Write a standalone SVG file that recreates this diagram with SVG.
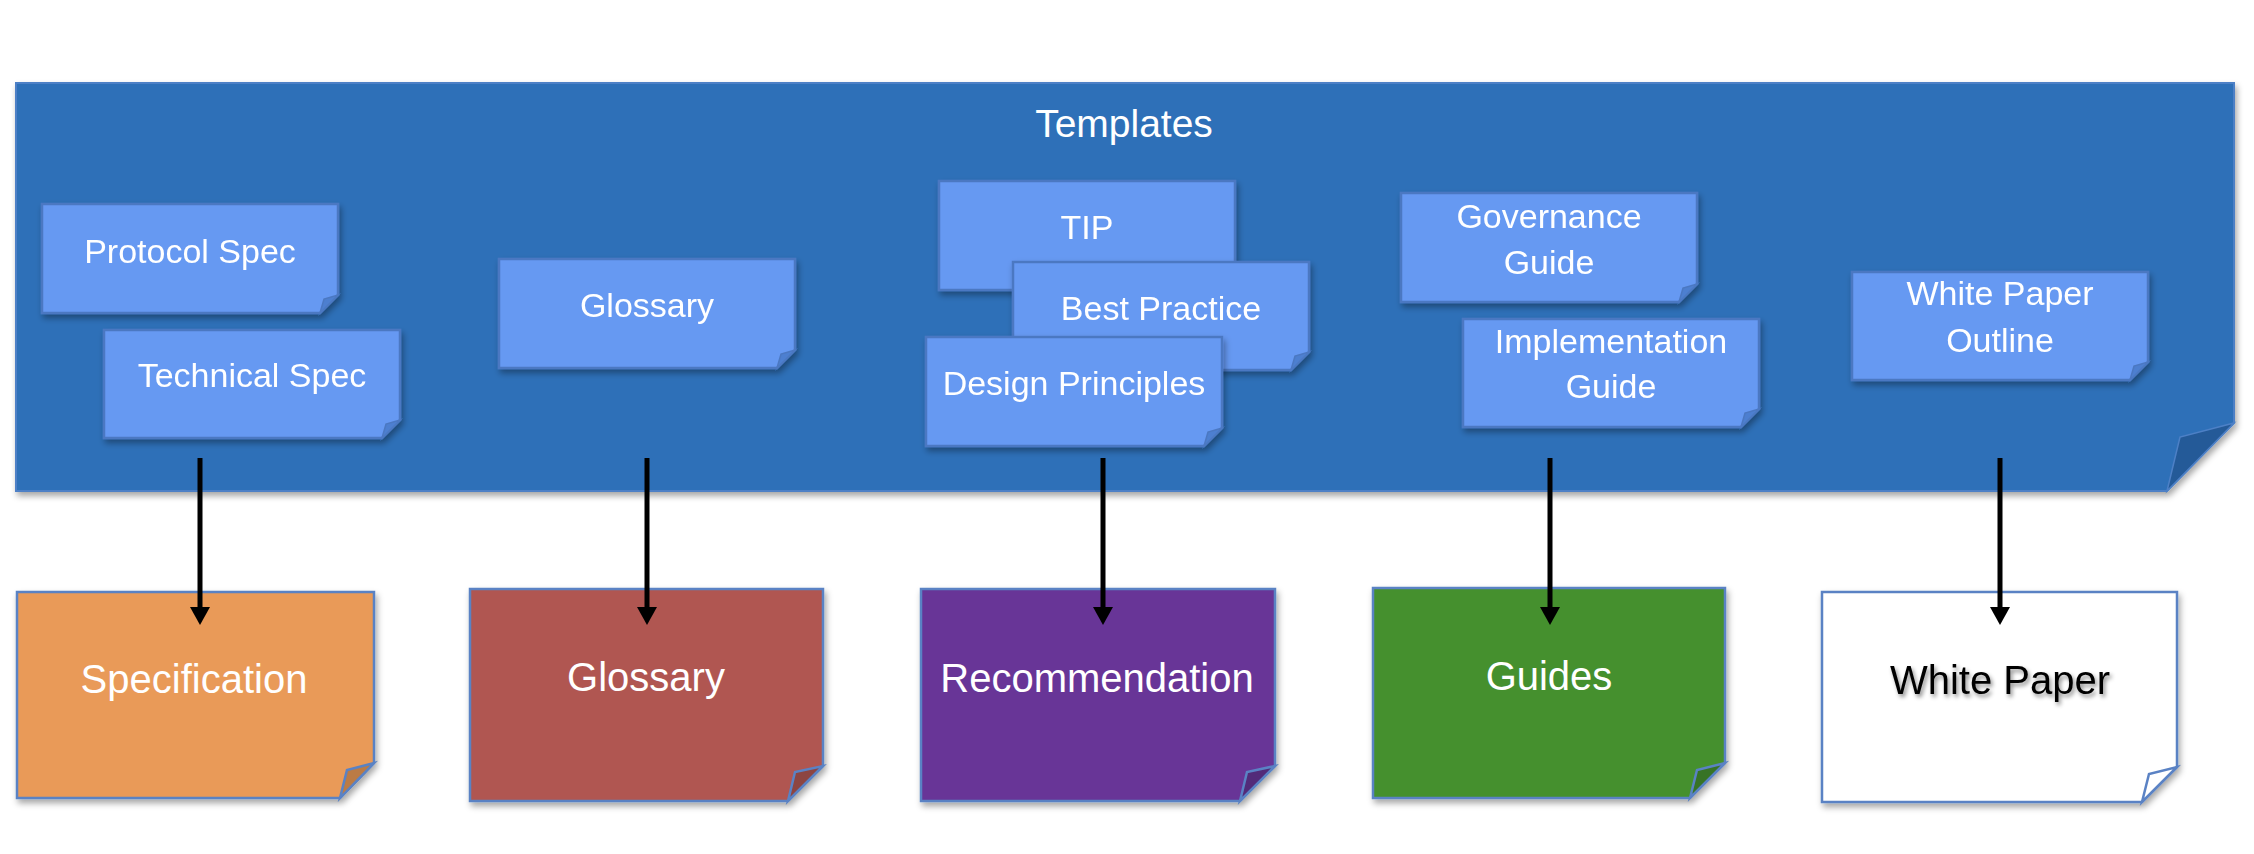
<svg xmlns="http://www.w3.org/2000/svg" width="2254" height="854" viewBox="0 0 2254 854">
<defs>
<filter id="sh" x="-10%" y="-10%" width="130%" height="140%">
<feDropShadow dx="2" dy="4" stdDeviation="3" flood-color="#000" flood-opacity="0.35"/>
</filter>
<filter id="tsh" x="-10%" y="-20%" width="130%" height="160%">
<feDropShadow dx="2" dy="3" stdDeviation="2" flood-color="#000" flood-opacity="0.45"/>
</filter>
<marker id="arr" viewBox="0 0 18 20" refX="1" refY="10" markerWidth="18" markerHeight="20" markerUnits="userSpaceOnUse" orient="auto">
<path d="M0,0 L18,10 L0,20 Z" fill="#000"/>
</marker>
</defs>
<style>
text{font-family:"Liberation Sans",Arial,sans-serif;fill:#fff;text-anchor:middle}
.t{font-size:34px}
.b{font-size:40px}
.h{font-size:39px}
.sm{fill:#6699F2;stroke:#4C78C2;stroke-width:2.5}
.smf{fill:#4D7FD0;stroke:#4C78C2;stroke-width:1.5}
.bx{stroke:#5A82C4;stroke-width:2.5}
.con{stroke:#000;stroke-width:5;fill:none}
</style>
<rect width="2254" height="854" fill="#fff"/>

<g id="templates">
<path d="M16,83 H2234 V423 L2167,491 H16 Z" fill="#2E70B8" stroke="#4D80C6" stroke-width="2" filter="url(#sh)"/>
<path d="M2167,491 L2180,437 L2234,423 Z" fill="#245A98" stroke="#4D80C6" stroke-width="1.5"/>
<text class="h" x="1124" y="137">Templates</text>
</g>

<g id="protocol-spec" filter="url(#sh)">
<path class="sm" d="M42,204 H338 V295 L320,313 H42 Z"/>
<path class="smf" d="M320,313 L324,299 L338,295 Z"/>
<text class="t" x="190" y="263">Protocol Spec</text>
</g>
<g id="technical-spec" filter="url(#sh)">
<path class="sm" d="M104,330 H400 V420 L382,438 H104 Z"/>
<path class="smf" d="M382,438 L386,424 L400,420 Z"/>
<text class="t" x="252" y="387">Technical Spec</text>
</g>
<g id="glossary-template" filter="url(#sh)">
<path class="sm" d="M499,259 H795 V350 L777,368 H499 Z"/>
<path class="smf" d="M777,368 L781,354 L795,350 Z"/>
<text class="t" x="647" y="317">Glossary</text>
</g>
<g id="tip" filter="url(#sh)">
<path class="sm" d="M939,181 H1235 V272 L1217,290 H939 Z"/>
<path class="smf" d="M1217,290 L1221,276 L1235,272 Z"/>
<text class="t" x="1087" y="239">TIP</text>
</g>
<g id="best-practice" filter="url(#sh)">
<path class="sm" d="M1013,262 H1309 V352 L1291,370 H1013 Z"/>
<path class="smf" d="M1291,370 L1295,356 L1309,352 Z"/>
<text class="t" x="1161" y="320">Best Practice</text>
</g>
<g id="design-principles" filter="url(#sh)">
<path class="sm" d="M926,337 H1222 V428 L1204,446 H926 Z"/>
<path class="smf" d="M1204,446 L1208,432 L1222,428 Z"/>
<text class="t" x="1074" y="395">Design Principles</text>
</g>
<g id="governance-guide" filter="url(#sh)">
<path class="sm" d="M1401,193 H1697 V284 L1679,302 H1401 Z"/>
<path class="smf" d="M1679,302 L1683,288 L1697,284 Z"/>
<text class="t" x="1549" y="228">Governance</text>
<text class="t" x="1549" y="274">Guide</text>
</g>
<g id="implementation-guide" filter="url(#sh)">
<path class="sm" d="M1463,319 H1759 V409 L1741,427 H1463 Z"/>
<path class="smf" d="M1741,427 L1745,413 L1759,409 Z"/>
<text class="t" x="1611" y="353">Implementation</text>
<text class="t" x="1611" y="398">Guide</text>
</g>
<g id="white-paper-outline" filter="url(#sh)">
<path class="sm" d="M1852,272 H2148 V362 L2130,380 H1852 Z"/>
<path class="smf" d="M2130,380 L2134,366 L2148,362 Z"/>
<text class="t" x="2000" y="305">White Paper</text>
<text class="t" x="2000" y="352">Outline</text>
</g>

<g id="specification">
<path class="bx" d="M17,592 H374 V763 L340,798 H17 Z" fill="#E99A58" filter="url(#sh)"/>
<path class="bx" d="M340,798 L347,770 L374,763 Z" fill="#BB7B45" stroke-width="2"/>
<text class="b" x="194" y="693">Specification</text>
</g>
<g id="glossary">
<path class="bx" d="M470,589 H823 V766 L788,801 H470 Z" fill="#B05751" filter="url(#sh)"/>
<path class="bx" d="M788,801 L795,772 L823,766 Z" fill="#8D4541" stroke-width="2"/>
<text class="b" x="646" y="691">Glossary</text>
</g>
<g id="recommendation">
<path class="bx" d="M921,589 H1275 V766 L1240,801 H921 Z" fill="#673697" filter="url(#sh)"/>
<path class="bx" d="M1240,801 L1247,772 L1275,766 Z" fill="#522B79" stroke-width="2"/>
<text class="b" x="1097" y="692">Recommendation</text>
</g>
<g id="guides">
<path class="bx" d="M1373,588 H1725 V763 L1690,798 H1373 Z" fill="#45902E" filter="url(#sh)"/>
<path class="bx" d="M1690,798 L1697,770 L1725,763 Z" fill="#377325" stroke-width="2"/>
<text class="b" x="1549" y="690">Guides</text>
</g>
<g id="white-paper">
<path class="bx" d="M1822,592 H2177 V767 L2142,802 H1822 Z" fill="#fff" filter="url(#sh)"/>
<path class="bx" d="M2142,802 L2149,774 L2177,767 Z" fill="#fff" stroke-width="2"/>
<text class="b" x="2000" y="694" style="fill:#000" filter="url(#tsh)">White Paper</text>
</g>

<g id="connectors">
<line class="con" x1="200" y1="458" x2="200" y2="608" marker-end="url(#arr)"/>
<line class="con" x1="647" y1="458" x2="647" y2="608" marker-end="url(#arr)"/>
<line class="con" x1="1103" y1="458" x2="1103" y2="608" marker-end="url(#arr)"/>
<line class="con" x1="1550" y1="458" x2="1550" y2="608" marker-end="url(#arr)"/>
<line class="con" x1="2000" y1="458" x2="2000" y2="608" marker-end="url(#arr)"/>
</g>
</svg>
